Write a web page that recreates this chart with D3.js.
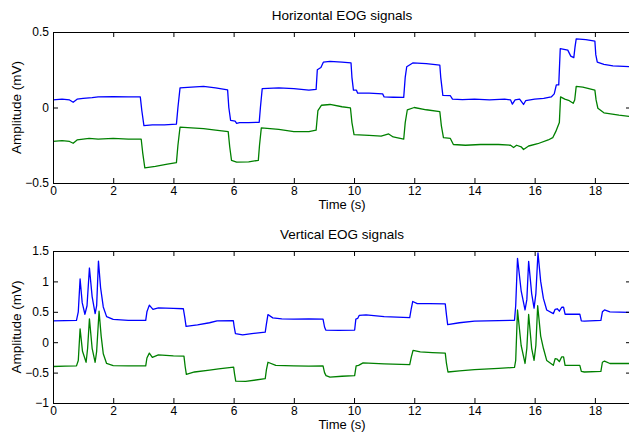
<!DOCTYPE html>
<html>
<head>
<meta charset="utf-8">
<script src="https://cdn.jsdelivr.net/npm/d3@7"></script>
<style>
  html, body { margin: 0; padding: 0; background: #fff; }
  svg { display: block; }
  text { font-family: "Liberation Sans", Arial, Helvetica, sans-serif; fill: #000; }
</style>
</head>
<body>
<svg id="chart" width="629" height="432"></svg>
<script>
// ---- Data: [time (s), amplitude (mV)] ----
const timeTicks = [0, 2, 4, 6, 8, 10, 12, 14, 16, 18];
const hTicks = [-0.5, 0, 0.5];
const vTicks = [-1, -0.5, 0, 0.5, 1, 1.5];

const hBlue = [[0,0.05],[0.3,0.055],[0.55,0.05],[0.67,0.035],[0.8,0.055],[1.0,0.06],[1.3,0.065],[1.5,0.07],[2.0,0.072],[2.5,0.07],[2.9,0.07],[2.95,-0.02],[3.02,-0.12],[3.3,-0.115],[3.7,-0.115],[4.1,-0.11],[4.15,0.0],[4.22,0.13],[4.6,0.135],[5.0,0.14],[5.4,0.13],[5.8,0.117],[5.84,0.0],[5.9,-0.085],[6.05,-0.09],[6.1,-0.105],[6.2,-0.1],[6.5,-0.1],[6.85,-0.098],[6.89,0.0],[6.95,0.125],[7.5,0.13],[8.0,0.125],[8.5,0.115],[8.74,0.12],[8.78,0.25],[8.9,0.265],[8.98,0.3],[9.2,0.305],[9.6,0.3],[9.9,0.295],[9.93,0.2],[9.98,0.115],[10.08,0.115],[10.12,0.095],[10.5,0.095],[10.95,0.09],[11.0,0.07],[11.3,0.068],[11.65,0.067],[11.7,0.2],[11.75,0.27],[11.95,0.295],[12.4,0.29],[12.85,0.28],[12.88,0.2],[12.95,0.08],[13.2,0.078],[13.27,0.055],[13.6,0.052],[14.0,0.055],[14.5,0.05],[15.0,0.055],[15.2,0.05],[15.26,0.022],[15.35,0.05],[15.5,0.055],[15.63,0.02],[15.7,0.045],[16.0,0.055],[16.3,0.06],[16.55,0.07],[16.65,0.09],[16.72,0.15],[16.8,0.15],[16.85,0.39],[17.1,0.38],[17.2,0.34],[17.3,0.33],[17.34,0.4],[17.38,0.455],[17.7,0.45],[18.0,0.44],[18.03,0.35],[18.08,0.3],[18.3,0.285],[18.6,0.275],[19.2,0.27]];

const hGreen = [[0,-0.225],[0.3,-0.22],[0.55,-0.225],[0.67,-0.237],[0.8,-0.215],[1.2,-0.205],[1.5,-0.21],[2.0,-0.205],[2.5,-0.21],[2.93,-0.21],[2.98,-0.3],[3.05,-0.4],[3.4,-0.39],[3.8,-0.375],[4.1,-0.365],[4.15,-0.25],[4.22,-0.13],[4.6,-0.135],[5.0,-0.14],[5.4,-0.15],[5.82,-0.16],[5.87,-0.26],[5.93,-0.35],[6.1,-0.362],[6.5,-0.36],[6.82,-0.35],[6.86,-0.25],[6.92,-0.135],[7.5,-0.145],[8.0,-0.16],[8.5,-0.16],[8.74,-0.15],[8.8,-0.02],[8.92,0.015],[9.2,0.02],[9.6,0.005],[9.88,-0.002],[9.93,-0.1],[10.0,-0.18],[10.5,-0.185],[10.9,-0.19],[11.15,-0.175],[11.3,-0.195],[11.65,-0.21],[11.7,-0.1],[11.77,-0.015],[12.0,0.0],[12.4,-0.015],[12.85,-0.028],[12.9,-0.12],[12.97,-0.2],[13.2,-0.205],[13.3,-0.245],[13.7,-0.25],[14.2,-0.245],[14.8,-0.245],[15.2,-0.25],[15.3,-0.265],[15.4,-0.25],[15.55,-0.26],[15.63,-0.278],[15.8,-0.255],[16.1,-0.24],[16.45,-0.215],[16.6,-0.2],[16.7,-0.16],[16.82,-0.1],[16.86,0.07],[17.0,0.055],[17.15,0.045],[17.28,0.028],[17.33,0.05],[17.38,0.14],[17.6,0.135],[18.0,0.115],[18.04,0.05],[18.1,-0.005],[18.3,-0.035],[18.8,-0.05],[19.2,-0.06]];

const vBlue = [[0,0.35],[0.4,0.355],[0.78,0.36],[0.84,0.5],[0.9,1.04],[0.97,0.65],[1.06,0.46],[1.13,0.6],[1.21,1.22],[1.3,0.75],[1.4,0.47],[1.45,0.6],[1.51,1.335],[1.58,0.9],[1.67,0.58],[1.78,0.42],[2.0,0.375],[2.5,0.36],[3.08,0.36],[3.12,0.5],[3.2,0.61],[3.32,0.54],[3.5,0.565],[4.0,0.555],[4.33,0.55],[4.38,0.4],[4.42,0.26],[4.8,0.285],[5.2,0.32],[5.45,0.35],[5.99,0.355],[6.02,0.25],[6.06,0.14],[6.3,0.12],[6.6,0.14],[7.05,0.165],[7.09,0.3],[7.14,0.455],[7.3,0.4],[7.6,0.385],[8.0,0.38],[8.5,0.385],[8.97,0.38],[9.02,0.25],[9.06,0.2],[9.5,0.195],[10.02,0.2],[10.06,0.38],[10.12,0.39],[10.17,0.44],[10.4,0.45],[11.0,0.42],[11.85,0.405],[11.9,0.55],[11.95,0.67],[12.1,0.635],[12.5,0.635],[13.03,0.63],[13.07,0.45],[13.11,0.29],[13.5,0.32],[14.0,0.345],[14.8,0.355],[15.33,0.36],[15.37,0.6],[15.43,1.38],[15.55,0.85],[15.68,0.53],[15.74,0.7],[15.8,1.33],[15.9,0.8],[15.98,0.56],[16.04,0.8],[16.11,1.47],[16.2,1.0],[16.29,0.72],[16.4,0.53],[16.62,0.47],[16.68,0.54],[16.75,0.55],[16.82,0.51],[16.9,0.575],[16.96,0.575],[17.01,0.46],[17.5,0.46],[17.55,0.35],[17.65,0.345],[18.2,0.36],[18.25,0.5],[18.32,0.53],[18.5,0.5],[19.2,0.49]];

const vGreen = [[0,-0.4],[0.4,-0.395],[0.78,-0.39],[0.84,-0.3],[0.9,0.22],[0.98,-0.15],[1.1,-0.33],[1.15,-0.1],[1.21,0.385],[1.3,-0.1],[1.4,-0.33],[1.45,-0.15],[1.53,0.51],[1.6,0.1],[1.67,-0.19],[1.78,-0.35],[2.0,-0.385],[2.5,-0.39],[3.08,-0.39],[3.12,-0.26],[3.2,-0.18],[3.3,-0.25],[3.5,-0.21],[4.0,-0.225],[4.35,-0.23],[4.39,-0.4],[4.43,-0.53],[4.7,-0.49],[5.2,-0.46],[5.5,-0.44],[6.0,-0.41],[6.03,-0.52],[6.07,-0.64],[6.4,-0.645],[7.05,-0.6],[7.09,-0.45],[7.14,-0.33],[7.4,-0.38],[8.0,-0.39],[8.5,-0.395],[8.97,-0.39],[9.02,-0.5],[9.07,-0.55],[9.2,-0.575],[9.6,-0.56],[10.02,-0.55],[10.07,-0.39],[10.15,-0.38],[10.3,-0.34],[11.0,-0.355],[11.85,-0.37],[11.9,-0.25],[11.96,-0.135],[12.2,-0.16],[12.6,-0.17],[13.03,-0.18],[13.07,-0.35],[13.12,-0.49],[13.5,-0.47],[14.0,-0.45],[14.8,-0.43],[15.33,-0.415],[15.37,-0.3],[15.43,0.53],[15.55,-0.05],[15.68,-0.35],[15.74,-0.1],[15.8,0.456],[15.9,-0.1],[15.98,-0.3],[16.04,-0.05],[16.1,0.6],[16.2,0.1],[16.29,-0.1],[16.4,-0.3],[16.62,-0.38],[16.68,-0.27],[16.75,-0.28],[16.82,-0.32],[16.9,-0.24],[16.96,-0.24],[17.01,-0.38],[17.5,-0.38],[17.55,-0.48],[17.65,-0.49],[18.2,-0.48],[18.25,-0.33],[18.32,-0.31],[18.5,-0.35],[19.2,-0.35]];

const panels = [
  { title: "Horizontal EOG signals", top: 32, bottom: 183, yDomain: [-0.5, 0.5], yTicks: hTicks,
    series: [{ data: hBlue, color: "#0000ff" }, { data: hGreen, color: "#008000" }] },
  { title: "Vertical EOG signals", top: 251, bottom: 403, yDomain: [-1, 1.5], yTicks: vTicks,
    series: [{ data: vBlue, color: "#0000ff" }, { data: vGreen, color: "#008000" }] }
];

const svg = d3.select("#chart");
const left = 53, right = 631;
const fmt = d => d < 0 ? "\u2212" + Math.abs(d) : String(d);

panels.forEach((p, i) => {
  const x = d3.scaleLinear().domain([0, 19.2]).range([left, right]);
  const y = d3.scaleLinear().domain(p.yDomain).range([p.bottom, p.top]);
  const g = svg.append("g");

  const clipId = "clip" + i;
  svg.append("clipPath").attr("id", clipId)
    .append("rect").attr("x", left).attr("y", p.top)
    .attr("width", right - left).attr("height", p.bottom - p.top);

  const line = d3.line().x(d => x(d[0])).y(d => y(d[1]));
  p.series.forEach(s => {
    g.append("path").datum(s.data)
      .attr("clip-path", `url(#${clipId})`)
      .attr("fill", "none").attr("stroke", s.color)
      .attr("stroke-width", 1.3).attr("stroke-linejoin", "round")
      .attr("d", line);
  });

  // box axes with inward ticks on every side
  const styleAxis = sel => {
    sel.selectAll(".domain").attr("stroke", "#000").attr("stroke-width", 1);
    sel.selectAll(".tick line").attr("stroke", "#000");
    sel.selectAll("text").attr("font-size", 12).attr("fill", "#000")
      .style("font-family", '"Liberation Sans", Arial, sans-serif');
  };
  g.append("g").attr("transform", `translate(0,${p.bottom})`)
    .call(d3.axisBottom(x).tickValues(timeTicks).tickSize(-5).tickSizeOuter(0).tickPadding(3))
    .call(styleAxis);
  g.append("g").attr("transform", `translate(0,${p.top})`)
    .call(d3.axisTop(x).tickValues(timeTicks).tickSize(-5).tickSizeOuter(0).tickFormat(""))
    .call(styleAxis);
  g.append("g").attr("transform", `translate(${left},0)`)
    .call(d3.axisLeft(y).tickValues(p.yTicks).tickSize(-5).tickSizeOuter(0).tickPadding(4).tickFormat(fmt))
    .call(styleAxis);
  g.append("g").attr("transform", `translate(${right},0)`)
    .call(d3.axisRight(y).tickValues(p.yTicks).tickSize(-5).tickSizeOuter(0).tickFormat(""))
    .call(styleAxis);

  g.append("text").attr("x", (left + right) / 2).attr("y", p.top - 12)
    .attr("text-anchor", "middle").attr("font-size", 13.5).text(p.title);
  g.append("text").attr("x", (left + right) / 2).attr("y", p.bottom + 26)
    .attr("text-anchor", "middle").attr("font-size", 13).text("Time (s)");
  g.append("text")
    .attr("transform", `translate(21,${(p.top + p.bottom) / 2}) rotate(-90)`)
    .attr("text-anchor", "middle").attr("font-size", 13.5).text("Amplitude (mV)");
});
</script>
</body>
</html>
